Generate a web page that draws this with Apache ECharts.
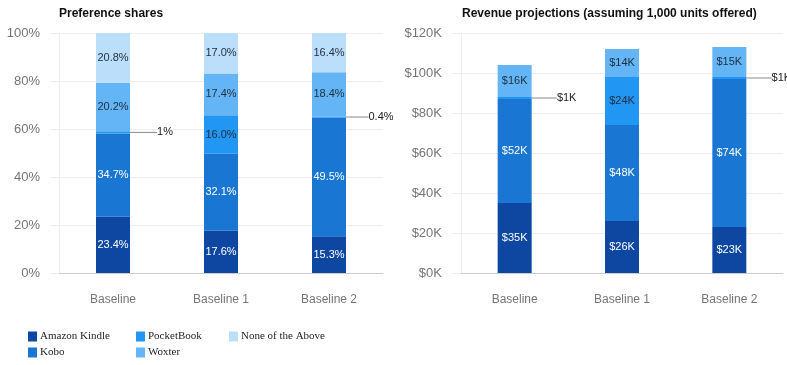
<!DOCTYPE html>
<html>
<head>
<meta charset="utf-8">
<script src="https://cdn.jsdelivr.net/npm/echarts@6/dist/echarts.min.js"></script>
<style>
html,body{margin:0;padding:0;background:#fff;}
#chart{width:787px;height:365px;}
</style>
</head>
<body>
<div id="chart"></div>
<script>
// ---- data ----
const categories = ['Baseline', 'Baseline 1', 'Baseline 2'];
const seriesNames = ['Amazon Kindle', 'Kobo', 'PocketBook', 'Woxter', 'None of the Above'];
// Preference shares (%)
const shareKindle = [23.4, 17.6, 15.3];
const shareKobo = [34.7, 32.1, 49.5];
const sharePocketBook = [1, 16.0, 0.4];
const shareWoxter = [20.2, 17.4, 18.4];
const shareNone = [20.8, 17.0, 16.4];
// Revenue projections ($K)
const revKindle = [35, 26, 23];
const revKobo = [52, 48, 74];
const revPocketBook = [1, 24, 1];
const revWoxter = [16, 14, 15];
// Axis ticks
const shareTicks = [0, 20, 40, 60, 80, 100];
const revTicks = [0, 20, 40, 60, 80, 100, 120];

const colors = {
  'Amazon Kindle': '#0d47a1',
  'Kobo': '#1976d2',
  'PocketBook': '#2196f3',
  'Woxter': '#64b5f6',
  'None of the Above': '#bbdefb'
};
const darkText = '#1f2d3d';
const labelColor = {
  'Amazon Kindle': '#ffffff',
  'Kobo': '#ffffff',
  'PocketBook': darkText,
  'Woxter': darkText,
  'None of the Above': darkText
};
const sans = 'Liberation Sans, Arial, sans-serif';

function shareFmt(v) { return (v < 2 ? String(v) : v.toFixed(1)) + '%'; }
function revFmt(v) { return '$' + Math.round(v) + 'K'; }

function makeSeries(name, data, axisIdx, fmt) {
  return {
    name: name,
    type: 'bar',
    stack: 's' + axisIdx,
    xAxisIndex: axisIdx,
    yAxisIndex: axisIdx,
    barWidth: 34,
    data: data.map(v => v < 2 ? { value: v, label: { color: '#222' } } : v),
    itemStyle: { color: colors[name] },
    label: {
      show: true,
      position: 'inside',
      color: labelColor[name],
      fontFamily: sans,
      fontSize: 11,
      formatter: p => fmt(p.value)
    },
    labelLine: { show: true, lineStyle: { color: '#888', width: 1 } },
    labelLayout: function (params) {
      if (params.rect.height < 8) {
        return { dx: 52 };
      }
      return {};
    }
  };
}

const series = [
  makeSeries('Amazon Kindle', shareKindle, 0, shareFmt),
  makeSeries('Kobo', shareKobo, 0, shareFmt),
  makeSeries('PocketBook', sharePocketBook, 0, shareFmt),
  makeSeries('Woxter', shareWoxter, 0, shareFmt),
  makeSeries('None of the Above', shareNone, 0, shareFmt),
  makeSeries('Amazon Kindle', revKindle, 1, revFmt),
  makeSeries('Kobo', revKobo, 1, revFmt),
  makeSeries('PocketBook', revPocketBook, 1, revFmt),
  makeSeries('Woxter', revWoxter, 1, revFmt)
];

const legendPos = [
  { name: 'Amazon Kindle', left: 28, top: 331 },
  { name: 'PocketBook', left: 136, top: 331 },
  { name: 'None of the Above', left: 229, top: 331 },
  { name: 'Kobo', left: 28, top: 347 },
  { name: 'Woxter', left: 136, top: 347 }
];

function xAxis(gi) {
  return {
    type: 'category', gridIndex: gi, data: categories,
    axisTick: { show: false },
    axisLine: { lineStyle: { color: '#cccccc' } },
    axisLabel: { color: '#757575', fontFamily: sans, fontSize: 12, margin: 21 }
  };
}
function yAxis(gi, ticks, fmt) {
  return {
    type: 'value', gridIndex: gi,
    min: ticks[0], max: ticks[ticks.length - 1], interval: ticks[1] - ticks[0],
    axisLine: { show: true, lineStyle: { color: '#eeeeee' } },
    axisTick: { show: true, length: 9, lineStyle: { color: '#eeeeee' } },
    splitLine: { lineStyle: { color: '#eeeeee' } },
    axisLabel: { color: '#757575', fontFamily: sans, fontSize: 13, margin: 19, formatter: fmt }
  };
}

const option = {
  animation: false,
  title: [
    { text: 'Preference shares', left: 59, top: 8, padding: 0,
      textStyle: { fontFamily: sans, fontSize: 12, fontWeight: 'bold', color: '#111' } },
    { text: 'Revenue projections (assuming 1,000 units offered)', left: 462, top: 8, padding: 0,
      textStyle: { fontFamily: sans, fontSize: 12, fontWeight: 'bold', color: '#111' } }
  ],
  legend: legendPos.map(l => ({
    data: [l.name], left: l.left, top: l.top, padding: 0,
    itemWidth: 9, itemHeight: 10, itemGap: 4,
    icon: 'rect',
    selectedMode: false,
    textStyle: { fontFamily: 'Liberation Serif, Times New Roman, serif', fontSize: 11, color: '#222', padding: [0, 0, 0, -2] }
  })),
  grid: [
    { left: 59, right: 404, top: 33, bottom: 92 },
    { left: 461, right: 4, top: 33, bottom: 92 }
  ],
  xAxis: [xAxis(0), xAxis(1)],
  yAxis: [yAxis(0, shareTicks, '{value}%'), yAxis(1, revTicks, '${value}K')],
  series: series
};

const chart = echarts.init(document.getElementById('chart'), null, { renderer: 'canvas' });
chart.setOption(option);
</script>
</body>
</html>
